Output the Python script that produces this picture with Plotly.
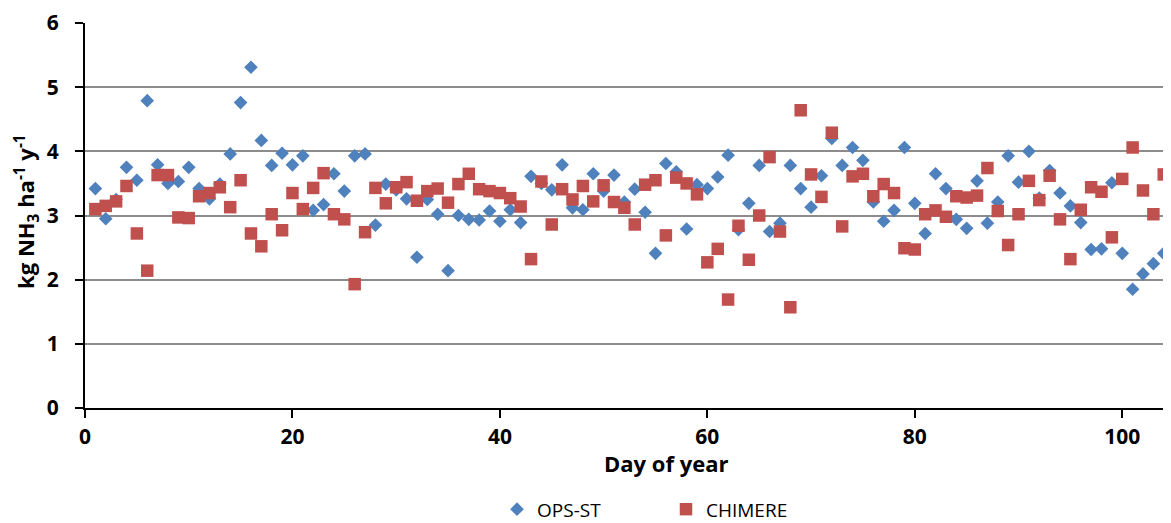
import plotly.graph_objects as go

days = list(range(1, 105))

ops_st = [3.42, 2.95, 3.25, 3.75, 3.55, 4.79, 3.79, 3.50, 3.53, 3.75,
          3.42, 3.26, 3.49, 3.96, 4.76, 5.31, 4.17, 3.78, 3.97, 3.79,
          3.93, 3.08, 3.17, 3.65, 3.38, 3.93, 3.96, 2.85, 3.49, 3.40,
          3.26, 2.35, 3.25, 3.02, 2.14, 3.00, 2.94, 2.93, 3.07, 2.91,
          3.09, 2.89, 3.61, 3.50, 3.40, 3.79, 3.12, 3.09, 3.65, 3.38,
          3.63, 3.21, 3.41, 3.05, 2.41, 3.81, 3.68, 2.79, 3.48, 3.42,
          3.60, 3.94, 2.78, 3.19, 3.78, 2.75, 2.88, 3.78, 3.42, 3.13,
          3.62, 4.20, 3.78, 4.06, 3.86, 3.21, 2.91, 3.08, 4.06, 3.19,
          2.72, 3.65, 3.42, 2.94, 2.80, 3.54, 2.88, 3.21, 3.93, 3.52,
          4.00, 3.27, 3.70, 3.35, 3.15, 2.89, 2.47, 2.48, 3.51, 2.41,
          1.85, 2.09, 2.25, 2.41]

chimere = [3.10, 3.15, 3.22, 3.46, 2.72, 2.14, 3.63, 3.63, 2.97, 2.96,
           3.30, 3.35, 3.44, 3.13, 3.55, 2.72, 2.52, 3.02, 2.77, 3.35,
           3.10, 3.43, 3.66, 3.02, 2.94, 1.93, 2.74, 3.43, 3.19, 3.44,
           3.52, 3.23, 3.38, 3.42, 3.20, 3.49, 3.65, 3.41, 3.38, 3.35,
           3.27, 3.14, 2.32, 3.53, 2.86, 3.41, 3.25, 3.46, 3.22, 3.47,
           3.21, 3.12, 2.86, 3.48, 3.55, 2.69, 3.59, 3.50, 3.33, 2.27,
           2.48, 1.69, 2.84, 2.31, 3.00, 3.91, 2.75, 1.57, 4.64, 3.64,
           3.29, 4.29, 2.83, 3.61, 3.65, 3.30, 3.49, 3.35, 2.49, 2.47,
           3.02, 3.08, 2.98, 3.30, 3.28, 3.31, 3.74, 3.07, 2.54, 3.02,
           3.54, 3.24, 3.62, 2.94, 2.32, 3.09, 3.44, 3.37, 2.66, 3.57,
           4.06, 3.39, 3.02, 3.64]

x_ticks = [0, 20, 40, 60, 80, 100]
y_ticks = [0, 1, 2, 3, 4, 5, 6]

FONT = "Open Sans"
OFF = 8  # page body margin offset
W, H = 1171 - OFF, 523 - OFF
# plot area in page pixels: left 85, top 22.7, bottom 408.5, right 1171
L = 85 - OFF
T = 22.7 - OFF
B = H - (408.5 - OFF)
R = 0
PW = W - L - R
PH = H - T - B


def px(xp):
    return (xp - 85) / PW


def py(yp):
    return (408.5 - yp) / PH


fig = go.Figure()
fig.add_trace(go.Scatter(
    x=days, y=ops_st, mode="markers", name="OPS-ST",
    marker=dict(symbol="diamond", size=10.5, color="#4F81BD",
                line=dict(width=0))))
fig.add_trace(go.Scatter(
    x=days, y=chimere, mode="markers", name="CHIMERE",
    marker=dict(symbol="square", size=12.5, color="#C0504D",
                line=dict(width=0))))

fig.update_layout(
    width=W, height=H,
    margin=dict(l=L, r=R, t=T, b=B, autoexpand=False),
    paper_bgcolor="white", plot_bgcolor="white",
    font=dict(family=FONT, color="black"),
    showlegend=True,
    legend=dict(orientation="h", x=px(497), xanchor="left",
                y=py(510), yanchor="middle",
                font=dict(size=19, family=FONT),
                itemwidth=30, entrywidth=124, traceorder="normal"),
    xaxis=dict(range=[0, 104.7], tickvals=x_ticks, showgrid=False,
               zeroline=False, showline=True, linecolor="black", linewidth=2,
               ticks="outside", ticklen=8, tickwidth=1.5, tickcolor="black",
               automargin=False, ticklabelstandoff=1,
               tickfont=dict(size=21, family=FONT, weight="bold")),
    yaxis=dict(range=[0, 6], tickvals=y_ticks, showgrid=True,
               gridcolor="#8C8C8C", gridwidth=1.5, zeroline=False,
               showline=True, linecolor="black", linewidth=2,
               ticks="outside", ticklen=8, tickwidth=1.5, tickcolor="black",
               automargin=False, ticklabelstandoff=12,
               tickfont=dict(size=21, family=FONT, weight="bold")),
)

fig.add_annotation(text="<b>Day of year</b>", xref="paper", yref="paper",
                   x=px(666), y=py(464),
                   xanchor="center", yanchor="middle", showarrow=False,
                   font=dict(size=22, family=FONT))

fig.add_annotation(text="<b>kg NH<sub>3</sub> ha<sup>-1</sup> y<sup>-1</sup></b>",
                   xref="paper", yref="paper",
                   x=px(27), y=py(212),
                   xanchor="center", yanchor="middle", showarrow=False,
                   textangle=-90, font=dict(size=22, family=FONT))

fig.write_html("out.html")
